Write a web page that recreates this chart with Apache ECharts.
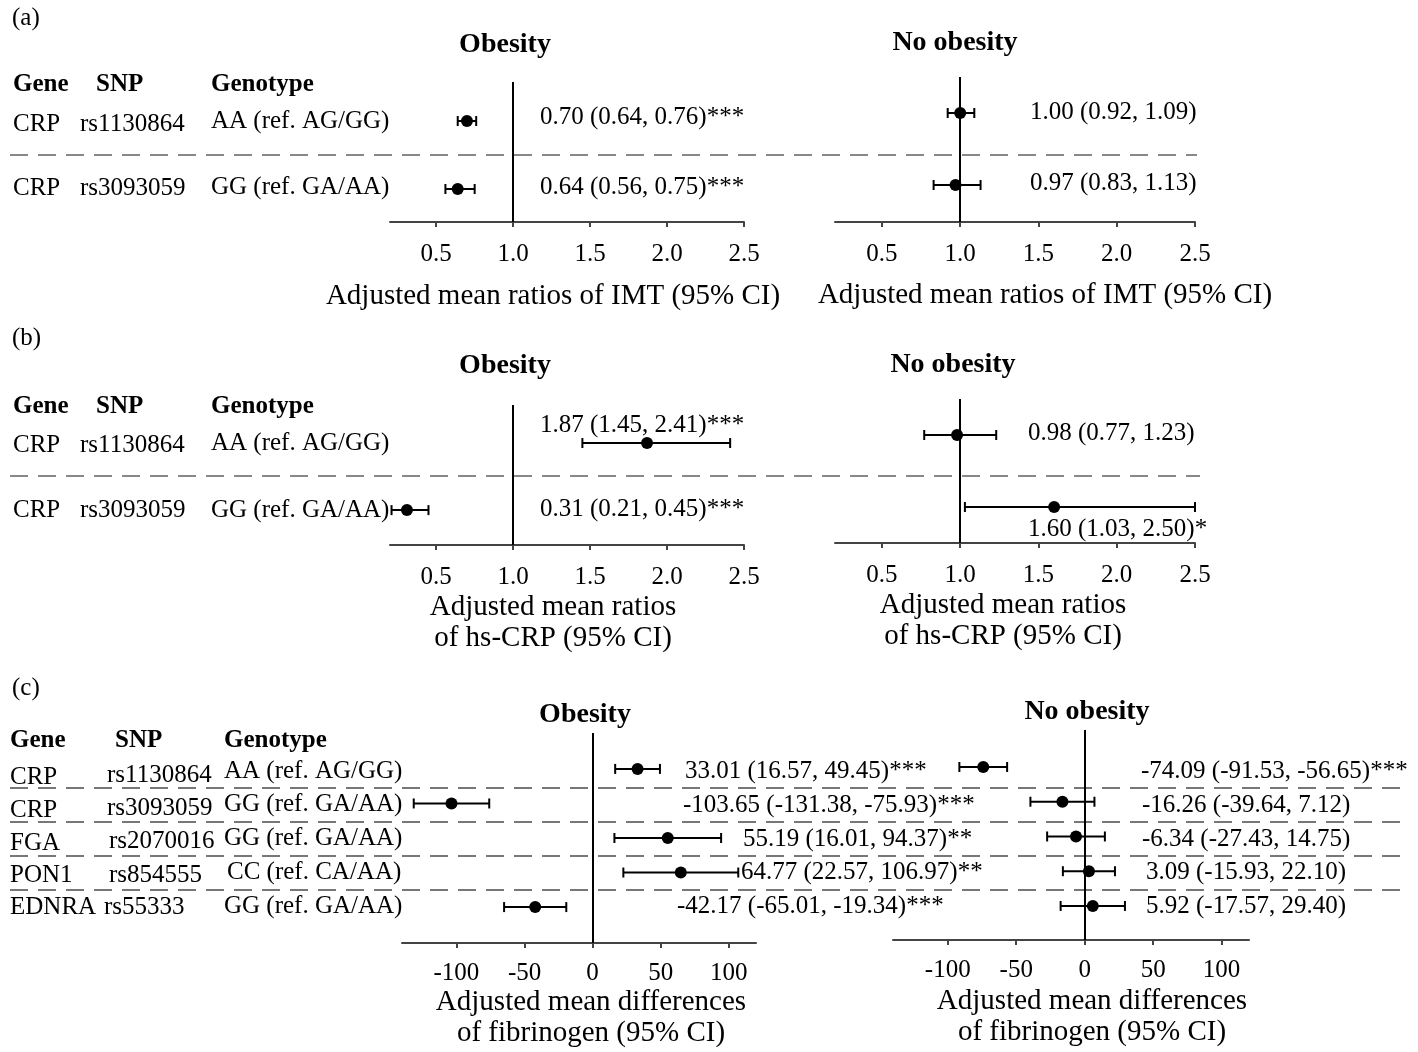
<!DOCTYPE html>
<html>
<head>
<meta charset="utf-8">
<script src="https://cdn.jsdelivr.net/npm/echarts@6/dist/echarts.min.js"></script>
<style>
html,body{margin:0;padding:0;background:#fff;}
#chart{width:1418px;height:1052px;}
</style>
</head>
<body>
<div id="chart"></div>
<script>
// ---------------- DATA ----------------
const ratioTicks = [0.5, 1.0, 1.5, 2.0, 2.5];
const diffTicks = [-100, -50, 0, 50, 100];

const crpGenes = ['CRP', 'CRP'];
const crpSnps = ['rs1130864', 'rs3093059'];
const crpGenotypes = ['AA (ref. AG/GG)', 'GG (ref. GA/AA)'];

// (a) IMT
const imtObesEst = [0.70, 0.64];
const imtObesLow = [0.64, 0.56];
const imtObesHigh = [0.76, 0.75];
const imtObesSig = ['***', '***'];
const imtNoEst = [1.00, 0.97];
const imtNoLow = [0.92, 0.83];
const imtNoHigh = [1.09, 1.13];
const imtNoSig = ['', ''];

// (b) hs-CRP
const hscrpObesEst = [1.87, 0.31];
const hscrpObesLow = [1.45, 0.21];
const hscrpObesHigh = [2.41, 0.45];
const hscrpObesSig = ['***', '***'];
const hscrpNoEst = [0.98, 1.60];
const hscrpNoLow = [0.77, 1.03];
const hscrpNoHigh = [1.23, 2.50];
const hscrpNoSig = ['', '*'];

// (c) fibrinogen
const fibGenes = ['CRP', 'CRP', 'FGA', 'PON1', 'EDNRA'];
const fibSnps = ['rs1130864', 'rs3093059', 'rs2070016', 'rs854555', 'rs55333'];
const fibGenotypes = ['AA (ref. AG/GG)', 'GG (ref. GA/AA)', 'GG (ref. GA/AA)', 'CC (ref. CA/AA)', 'GG (ref. GA/AA)'];
const fibObesEst = [33.01, -103.65, 55.19, 64.77, -42.17];
const fibObesLow = [16.57, -131.38, 16.01, 22.57, -65.01];
const fibObesHigh = [49.45, -75.93, 94.37, 106.97, -19.34];
const fibObesSig = ['***', '***', '**', '**', '***'];
const fibNoEst = [-74.09, -16.26, -6.34, 3.09, 5.92];
const fibNoLow = [-91.53, -39.64, -27.43, -15.93, -17.57];
const fibNoHigh = [-56.65, 7.12, 14.75, 22.10, 29.40];
const fibNoSig = ['***', '', '', '', ''];

// ---------------- LAYOUT ----------------
const FONT = '"Liberation Serif", "Times New Roman", Times, serif';
const F_TXT = '25px ' + FONT;
const F_BOLD = 'bold 25px ' + FONT;
const F_HEAD = 'bold 28px ' + FONT;
const F_TITLE = '29px ' + FONT;

const panels = [
  { est: imtObesEst, low: imtObesLow, high: imtObesHigh, sig: imtObesSig,
    grid: {left: 390, top: 82, width: 354, height: 140}, xr: [0.2, 2.5], yr: [0.426, 2.485],
    ref: 1, ticks: ratioTicks, dec: 1, margin: 20,
    labels: [[540, 117], [540, 187]] },
  { est: imtNoEst, low: imtNoLow, high: imtNoHigh, sig: imtNoSig,
    grid: {left: 835, top: 77, width: 360, height: 145}, xr: [0.2, 2.5], yr: [0.5, 2.514],
    ref: 1, ticks: ratioTicks, dec: 1, margin: 20,
    labels: [[1030, 112], [1030, 183]] },
  { est: hscrpObesEst, low: hscrpObesLow, high: hscrpObesHigh, sig: hscrpObesSig,
    grid: {left: 390, top: 405, width: 354, height: 140}, xr: [0.2, 2.5], yr: [0.433, 2.52],
    ref: 1, ticks: ratioTicks, dec: 1, margin: 20,
    labels: [[540, 425], [540, 509]] },
  { est: hscrpNoEst, low: hscrpNoLow, high: hscrpNoHigh, sig: hscrpNoSig,
    grid: {left: 835, top: 399, width: 360, height: 144}, xr: [0.2, 2.5], yr: [0.5, 2.5],
    ref: 1, ticks: ratioTicks, dec: 1, margin: 20,
    labels: [[1028, 433], [1028, 529]] },
  { est: fibObesEst, low: fibObesLow, high: fibObesHigh, sig: fibObesSig,
    grid: {left: 402, top: 733, width: 354, height: 210}, xr: [-140, 120], yr: [-0.04, 6.04],
    ref: 0, ticks: diffTicks, dec: 0, margin: 18,
    labels: [[685, 771], [683, 805], [743, 839], [741, 872], [677, 906]] },
  { est: fibNoEst, low: fibNoLow, high: fibNoHigh, sig: fibNoSig,
    grid: {left: 893, top: 730, width: 356, height: 210}, xr: [-140, 120], yr: [-0.065, 5.98],
    ref: 0, ticks: diffTicks, dec: 0, margin: 18,
    labels: [[1141, 771], [1142, 805], [1142, 839], [1146, 872], [1146, 906]] }
];

// ---------------- BUILD ----------------
const grids = [], xAxes = [], yAxes = [], series = [], graphics = [];

function txt(x, y, s, font, align) {
  graphics.push({ type: 'text', x: x, y: y, silent: true,
    style: { text: s, font: font || F_TXT, fill: '#000', align: align || 'left', verticalAlign: 'middle' } });
}
function dash(y, x1, x2, color) {
  graphics.push({ type: 'line', silent: true, shape: { x1: x1, y1: y, x2: x2, y2: y },
    style: { stroke: color || '#888', lineWidth: 2, lineDash: [18, 10] } });
}

panels.forEach(function (p, i) {
  grids.push(Object.assign({ outerBoundsMode: 'none', containLabel: false }, p.grid));
  xAxes.push({
    type: 'value', gridIndex: i, min: p.xr[0], max: p.xr[1], position: 'bottom',
    axisLine: { show: true, onZero: false, lineStyle: { color: '#444', width: 2 } },
    axisTick: { show: true, customValues: p.ticks, length: 5, lineStyle: { color: '#444', width: 2 } },
    axisLabel: { show: true, customValues: p.ticks, margin: p.margin, color: '#000',
      fontFamily: FONT, fontSize: 25,
      formatter: function (v) { return Number(v).toFixed(p.dec); } },
    splitLine: { show: false }
  });
  yAxes.push({ type: 'value', gridIndex: i, min: p.yr[0], max: p.yr[1], inverse: true, show: false });

  const rows = p.est.map(function (_, k) { return k + 1; });
  series.push({
    type: 'custom', xAxisIndex: i, yAxisIndex: i, clip: false, silent: true,
    data: p.est.map(function (_, k) { return [p.low[k], p.high[k], rows[k]]; }),
    encode: { x: [0, 1], y: 2 },
    renderItem: function (params, api) {
      const a = api.coord([api.value(0), api.value(2)]);
      const b = api.coord([api.value(1), api.value(2)]);
      const h = 5, st = { stroke: '#000', lineWidth: 2 };
      return { type: 'group', children: [
        { type: 'line', shape: { x1: a[0], y1: a[1], x2: b[0], y2: b[1] }, style: st },
        { type: 'line', shape: { x1: a[0], y1: a[1] - h, x2: a[0], y2: a[1] + h }, style: st },
        { type: 'line', shape: { x1: b[0], y1: b[1] - h, x2: b[0], y2: b[1] + h }, style: st }
      ] };
    }
  });
  series.push({
    type: 'scatter', xAxisIndex: i, yAxisIndex: i, silent: true, z: 5,
    symbol: 'circle', symbolSize: 12, itemStyle: { color: '#000', opacity: 1 },
    data: p.est.map(function (v, k) { return [v, rows[k]]; }),
    markLine: {
      silent: true, symbol: ['none', 'none'], label: { show: false }, animation: false,
      lineStyle: { color: '#000', width: 2, type: 'solid', opacity: 1 },
      data: [[{ coord: [p.ref, p.yr[0]] }, { coord: [p.ref, p.yr[1]] }]]
    }
  });
  p.est.forEach(function (v, k) {
    const s = v.toFixed(2) + ' (' + p.low[k].toFixed(2) + ', ' + p.high[k].toFixed(2) + ')' + p.sig[k];
    txt(p.labels[k][0], p.labels[k][1], s);
  });
});

// panel letters
txt(12, 18, '(a)');
txt(12, 338, '(b)');
txt(12, 688, '(c)');

// subplot headings
txt(505, 45, 'Obesity', F_HEAD, 'center');
txt(955, 43, 'No obesity', F_HEAD, 'center');
txt(505, 366, 'Obesity', F_HEAD, 'center');
txt(953, 365, 'No obesity', F_HEAD, 'center');
txt(585, 715, 'Obesity', F_HEAD, 'center');
txt(1087, 712, 'No obesity', F_HEAD, 'center');

// column headers (a), (b)
[[85], [407]].forEach(function (r) {
  txt(13, r[0], 'Gene', F_BOLD);
  txt(96, r[0], 'SNP', F_BOLD);
  txt(211, r[0], 'Genotype', F_BOLD);
});
// rows (a), (b)
const aRowY = [[124, 121], [188, 187]];
const bRowY = [[445, 443], [510, 510]];
[aRowY, bRowY].forEach(function (ry) {
  crpGenes.forEach(function (g, k) {
    txt(13, ry[k][0], g);
    txt(80, ry[k][0], crpSnps[k]);
    txt(211, ry[k][1], crpGenotypes[k]);
  });
});
dash(155, 10, 1197);
dash(476, 10, 1200);

// (c)
txt(10, 741, 'Gene', F_BOLD);
txt(115, 741, 'SNP', F_BOLD);
txt(224, 741, 'Genotype', F_BOLD);
const cGeneY = [777, 810, 843, 875, 907];
const cSnpY = [775, 808, 841, 875, 907];
const cGenoY = [771, 804, 838, 872, 906];
const cSnpX = [107, 107, 109, 109, 104];
const cGenoX = [224, 224, 224, 227, 224];
fibGenes.forEach(function (g, k) {
  txt(10, cGeneY[k], g);
  txt(cSnpX[k], cSnpY[k], fibSnps[k]);
  txt(cGenoX[k], cGenoY[k], fibGenotypes[k]);
});
[788, 822, 856, 890].forEach(function (y) { dash(y, 10, 1410, '#777'); });

// axis titles
txt(553, 296, 'Adjusted mean ratios of IMT (95% CI)', F_TITLE, 'center');
txt(1045, 295, 'Adjusted mean ratios of IMT (95% CI)', F_TITLE, 'center');
txt(553, 607, 'Adjusted mean ratios', F_TITLE, 'center');
txt(553, 638, 'of hs-CRP (95% CI)', F_TITLE, 'center');
txt(1003, 605, 'Adjusted mean ratios', F_TITLE, 'center');
txt(1003, 636, 'of hs-CRP (95% CI)', F_TITLE, 'center');
txt(591, 1002, 'Adjusted mean differences', F_TITLE, 'center');
txt(591, 1033, 'of fibrinogen (95% CI)', F_TITLE, 'center');
txt(1092, 1001, 'Adjusted mean differences', F_TITLE, 'center');
txt(1092, 1032, 'of fibrinogen (95% CI)', F_TITLE, 'center');

const chart = echarts.init(document.getElementById('chart'), null, { renderer: 'canvas' });
chart.setOption({
  backgroundColor: '#fff',
  animation: false,
  grid: grids,
  xAxis: xAxes,
  yAxis: yAxes,
  series: series,
  graphic: graphics
});
</script>
</body>
</html>
